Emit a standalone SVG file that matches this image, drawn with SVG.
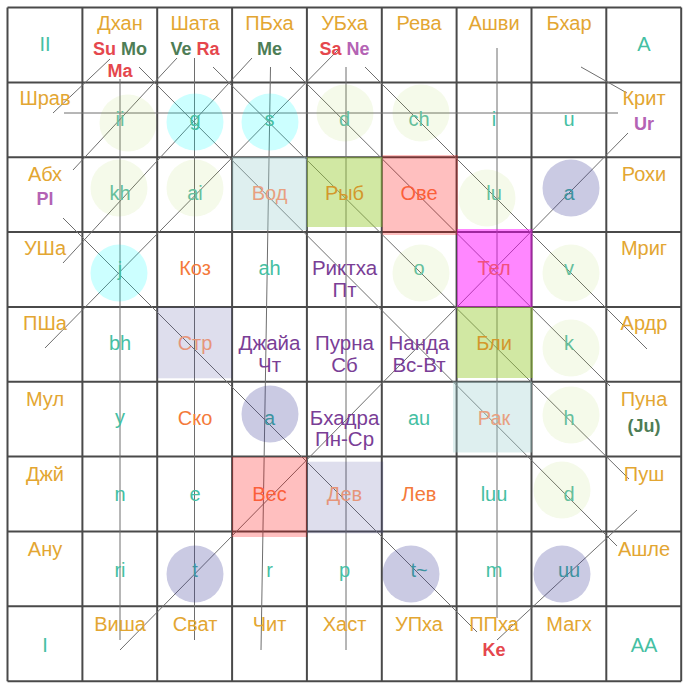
<svg xmlns="http://www.w3.org/2000/svg" width="689" height="691" viewBox="0 0 689 691">
<defs>
<style>
text{font-family:"Liberation Sans",Arial,sans-serif;text-anchor:middle}
.nk{fill:#e3a632;font-size:20px}
.ltr{fill:#45bfa3;font-size:20px}
.ltl{fill:#3e93a0;font-size:20px}
.lty{fill:#66bf9c;font-size:20px}
.ra{fill:#f47a3a;font-size:20px}
.ct{fill:#7a3e96;font-size:20.5px}
.pl{font-size:18px;font-weight:bold}
.red{fill:#e5474d}.grn{fill:#4e7d56}.vio{fill:#b463b4}
.grid line{stroke:#4a4a4a;stroke-width:2}
.vedha line{stroke:#6e6e6e;stroke-width:1}
.cy{fill:#00ffff;fill-opacity:.2}
.yg{fill:#9acd32;fill-opacity:.1}
.lv{fill:#3c3c96;fill-opacity:.27}
.rb{fill:#a0d0d0;fill-opacity:.35}
.rg{fill:#9acd32;fill-opacity:.45}
.rr{fill:#ff0000;fill-opacity:.25}
.rm{fill:#ff00ff;fill-opacity:.47}
.rl{fill:#3c3c96;fill-opacity:.17}
</style>
</defs>
<rect width="689" height="691" fill="#fff"/>
<g class="grid">
<line x1="7.5" y1="7.5" x2="7.5" y2="681.2"/><line x1="82.4" y1="7.5" x2="82.4" y2="681.2"/><line x1="157.2" y1="7.5" x2="157.2" y2="681.2"/><line x1="232.1" y1="7.5" x2="232.1" y2="681.2"/><line x1="306.9" y1="7.5" x2="306.9" y2="681.2"/><line x1="381.8" y1="7.5" x2="381.8" y2="681.2"/><line x1="456.6" y1="7.5" x2="456.6" y2="681.2"/><line x1="531.5" y1="7.5" x2="531.5" y2="681.2"/><line x1="606.3" y1="7.5" x2="606.3" y2="681.2"/><line x1="681.2" y1="7.5" x2="681.2" y2="681.2"/>
<line x1="7.5" y1="7.5" x2="681.2" y2="7.5"/><line x1="7.5" y1="82.4" x2="681.2" y2="82.4"/><line x1="7.5" y1="157.2" x2="681.2" y2="157.2"/><line x1="7.5" y1="232.1" x2="681.2" y2="232.1"/><line x1="7.5" y1="306.9" x2="681.2" y2="306.9"/><line x1="7.5" y1="381.8" x2="681.2" y2="381.8"/><line x1="7.5" y1="456.6" x2="681.2" y2="456.6"/><line x1="7.5" y1="531.5" x2="681.2" y2="531.5"/><line x1="7.5" y1="606.3" x2="681.2" y2="606.3"/><line x1="7.5" y1="681.2" x2="681.2" y2="681.2"/>
</g>
<g id="connectors" class="vedha">
<line x1="120" y1="79" x2="120" y2="640"/>
<line x1="110" y1="59" x2="53" y2="113"/>
<line x1="139" y1="67" x2="617" y2="546"/>
<line x1="194.5" y1="58" x2="194.5" y2="640"/>
<line x1="177" y1="58" x2="73" y2="170"/>
<line x1="213" y1="67" x2="629" y2="479"/>
<line x1="270.5" y1="67" x2="261" y2="650"/>
<line x1="252" y1="58" x2="63" y2="263"/>
<line x1="290" y1="67" x2="610" y2="386"/>
<line x1="346" y1="67" x2="346" y2="650"/>
<line x1="338" y1="50" x2="45" y2="348"/>
<line x1="365" y1="67" x2="647" y2="349"/>
<line x1="64" y1="113" x2="618" y2="113"/>
<line x1="581" y1="67" x2="627" y2="93"/>
<line x1="628" y1="133" x2="120" y2="650"/>
<line x1="63" y1="218" x2="477" y2="632"/>
<line x1="497" y1="48" x2="497" y2="618"/>
<line x1="637" y1="510" x2="497" y2="640"/>
</g>
<!-- row 0 -->
<g id="c-II"><text class="ltr" x="45" y="51">II</text></g>
<g id="n-dhan"><text class="nk" x="120" y="30">Дхан</text><text class="pl" x="120" y="55"><tspan class="red">Su</tspan> <tspan class="grn">Mo</tspan></text><text class="pl red" x="120" y="77">Ma</text></g>
<g id="n-shata"><text class="nk" x="195" y="30">Шата</text><text class="pl" x="195" y="55"><tspan class="grn">Ve</tspan> <tspan class="red">Ra</tspan></text></g>
<g id="n-pbha"><text class="nk" x="269.5" y="30">ПБха</text><text class="pl grn" x="269.5" y="55">Me</text></g>
<g id="n-ubha"><text class="nk" x="344.5" y="30">УБха</text><text class="pl" x="344.5" y="55"><tspan class="red">Sa</tspan> <tspan class="vio">Ne</tspan></text></g>
<g id="n-reva"><text class="nk" x="419" y="30">Рева</text></g>
<g id="n-ashvi"><text class="nk" x="494" y="30">Ашви</text></g>
<g id="n-bhar"><text class="nk" x="569" y="30">Бхар</text></g>
<g id="c-A"><text class="ltr" x="644" y="51">A</text></g>
<!-- row 1 -->
<g id="n-shrav"><text class="nk" x="45" y="105">Шрав</text></g>
<g id="c-ii"><circle class="yg" cx="128" cy="123" r="28.5"/><text class="lty" x="120" y="126">ii</text></g>
<g id="c-g"><circle class="cy" cx="195" cy="122" r="28.5"/><text class="ltr" x="195" y="126">g</text></g>
<g id="c-s"><circle class="cy" cx="270" cy="122" r="28.5"/><text class="ltr" x="269.5" y="126">s</text></g>
<g id="c-d1"><circle class="yg" cx="345" cy="113" r="28.5"/><text class="lty" x="344.5" y="126">d</text></g>
<g id="c-ch"><circle class="yg" cx="421" cy="113" r="28.5"/><text class="lty" x="419" y="126">ch</text></g>
<g id="c-i"><text class="ltr" x="494" y="126">i</text></g>
<g id="c-u"><text class="ltr" x="569" y="126">u</text></g>
<g id="n-krit"><text class="nk" x="644" y="105">Крит</text><text class="pl vio" x="644" y="130">Ur</text></g>
<!-- row 2 -->
<g id="n-abh"><text class="nk" x="45" y="181">Абх</text><text class="pl vio" x="45" y="205">Pl</text></g>
<g id="c-kh"><circle class="yg" cx="119" cy="188" r="28.5"/><text class="lty" x="120" y="200">kh</text></g>
<g id="c-ai"><circle class="yg" cx="195" cy="188" r="28.5"/><text class="lty" x="195" y="200">ai</text></g>
<g id="r-vod"><rect class="rb" x="232" y="157" width="75" height="73"/><text class="ra" x="269.5" y="200" style="fill:#e8a080">Вод</text></g>
<g id="r-ryb"><rect class="rg" x="307" y="157" width="75.5" height="70"/><text class="ra" x="344.5" y="200" style="fill:#d3982c">Рыб</text></g>
<g id="r-ove"><rect class="rr" x="382.5" y="155" width="75.5" height="80"/><text class="ra" x="419" y="200" style="fill:#fb5f3a">Ове</text></g>
<g id="c-lu"><circle class="yg" cx="487" cy="198" r="28.5"/><text class="lty" x="494" y="200">lu</text></g>
<g id="c-a1"><circle class="lv" cx="571" cy="188" r="28.5"/><text class="ltl" x="569" y="200">a</text></g>
<g id="n-rohi"><text class="nk" x="644" y="181">Рохи</text></g>
<!-- row 3 -->
<g id="n-usha"><text class="nk" x="45" y="255">УШа</text></g>
<g id="c-j"><circle class="cy" cx="119" cy="273" r="28.5"/><text class="ltr" x="120" y="276">j</text></g>
<g id="r-koz"><text class="ra" x="195" y="275">Коз</text></g>
<g id="c-ah"><text class="ltr" x="269.5" y="275">ah</text></g>
<g id="t-rikt"><text class="ct" x="344.5" y="275">Риктха</text><text class="ct" x="344.5" y="297">Пт</text></g>
<g id="c-o"><circle class="yg" cx="421" cy="273" r="28.5"/><text class="lty" x="419" y="275">o</text></g>
<g id="r-tel"><rect class="rm" x="457" y="229" width="75.5" height="78"/><text class="ra" x="494" y="275" style="fill:#f2507e">Тел</text></g>
<g id="c-v"><circle class="yg" cx="571" cy="273" r="28.5"/><text class="lty" x="569" y="275">v</text></g>
<g id="n-mrig"><text class="nk" x="644" y="255">Мриг</text></g>
<!-- row 4 -->
<g id="n-psha"><text class="nk" x="45" y="330">ПШа</text></g>
<g id="c-bh"><text class="ltr" x="120" y="350">bh</text></g>
<g id="r-str"><rect class="rl" x="157.3" y="307.3" width="75" height="71"/><text class="ra" x="195" y="350" style="fill:#e6957a">Стр</text></g>
<g id="t-jaya"><text class="ct" x="269.5" y="350">Джайа</text><text class="ct" x="269.5" y="372">Чт</text></g>
<g id="t-purna"><text class="ct" x="344.5" y="350">Пурна</text><text class="ct" x="344.5" y="372">Сб</text></g>
<g id="t-nanda"><text class="ct" x="419" y="350">Нанда</text><text class="ct" x="419" y="372">Вс-Вт</text></g>
<g id="r-bli"><rect class="rg" x="457" y="307" width="76" height="71"/><text class="ra" x="494" y="350" style="fill:#d3982c">Бли</text></g>
<g id="c-k"><circle class="yg" cx="571" cy="348" r="28.5"/><text class="lty" x="569" y="350">k</text></g>
<g id="n-ardr"><text class="nk" x="644" y="330">Ардр</text></g>
<!-- row 5 -->
<g id="n-mul"><text class="nk" x="45" y="406">Мул</text></g>
<g id="c-y"><text class="ltr" x="120" y="424">y</text></g>
<g id="r-sko"><text class="ra" x="195" y="425">Ско</text></g>
<g id="c-a2"><circle class="lv" cx="270" cy="414" r="28.5"/><text class="ltl" x="269.5" y="425">a</text></g>
<g id="t-bhadra"><text class="ct" x="344.5" y="425">Бхадра</text><text class="ct" x="344.5" y="446">Пн-Ср</text></g>
<g id="c-au"><text class="ltr" x="419" y="425">au</text></g>
<g id="r-rak"><rect class="rb" x="453" y="381.5" width="79" height="71"/><text class="ra" x="494" y="425" style="fill:#e8a080">Рак</text></g>
<g id="c-h"><circle class="yg" cx="571" cy="415" r="28.5"/><text class="lty" x="569" y="425">h</text></g>
<g id="n-puna"><text class="nk" x="644" y="406">Пуна</text><text class="pl grn" x="644" y="432">(Ju)</text></g>
<!-- row 6 -->
<g id="n-jy"><text class="nk" x="45" y="481">Джй</text></g>
<g id="c-n"><text class="ltr" x="120" y="501">n</text></g>
<g id="c-e"><text class="ltr" x="195" y="501">e</text></g>
<g id="r-ves"><rect class="rr" x="232" y="457" width="75" height="80"/><text class="ra" x="269.5" y="501" style="fill:#fb5f3a">Вес</text></g>
<g id="r-dev"><rect class="rl" x="307.3" y="461.7" width="76" height="71.6"/><text class="ra" x="344.5" y="501" style="fill:#e6957a">Дев</text></g>
<g id="r-lev"><text class="ra" x="419" y="501">Лев</text></g>
<g id="c-luu"><text class="ltr" x="494" y="501">luu</text></g>
<g id="c-d2"><circle class="yg" cx="562" cy="490" r="28.5"/><text class="lty" x="569" y="501">d</text></g>
<g id="n-push"><text class="nk" x="644" y="481">Пуш</text></g>
<!-- row 7 -->
<g id="n-anu"><text class="nk" x="45" y="556">Ану</text></g>
<g id="c-ri"><text class="ltr" x="120" y="577">ri</text></g>
<g id="c-t"><circle class="lv" cx="195" cy="574" r="28.5"/><text class="ltl" x="195" y="577">t</text></g>
<g id="c-r"><text class="ltr" x="269.5" y="577">r</text></g>
<g id="c-p"><text class="ltr" x="344.5" y="577">p</text></g>
<g id="c-tt"><circle class="lv" cx="411" cy="574" r="28.5"/><text class="ltl" x="419" y="577">t~</text></g>
<g id="c-m"><text class="ltr" x="494" y="577">m</text></g>
<g id="c-uu"><circle class="lv" cx="562" cy="574" r="28.5"/><text class="ltl" x="569" y="577">uu</text></g>
<g id="n-ashle"><text class="nk" x="644" y="556">Ашле</text></g>
<!-- row 8 -->
<g id="c-I"><text class="ltr" x="45" y="652">I</text></g>
<g id="n-visha"><text class="nk" x="120" y="631">Виша</text></g>
<g id="n-svat"><text class="nk" x="195" y="631">Сват</text></g>
<g id="n-chit"><text class="nk" x="269.5" y="631">Чит</text></g>
<g id="n-hast"><text class="nk" x="344.5" y="631">Хаст</text></g>
<g id="n-upha"><text class="nk" x="419" y="631">УПха</text></g>
<g id="n-ppha"><text class="nk" x="494" y="631">ППха</text><text class="pl red" x="494" y="656">Ke</text></g>
<g id="n-magh"><text class="nk" x="569" y="631">Магх</text></g>
<g id="c-AA"><text class="ltr" x="644" y="652">AA</text></g>
</svg>
